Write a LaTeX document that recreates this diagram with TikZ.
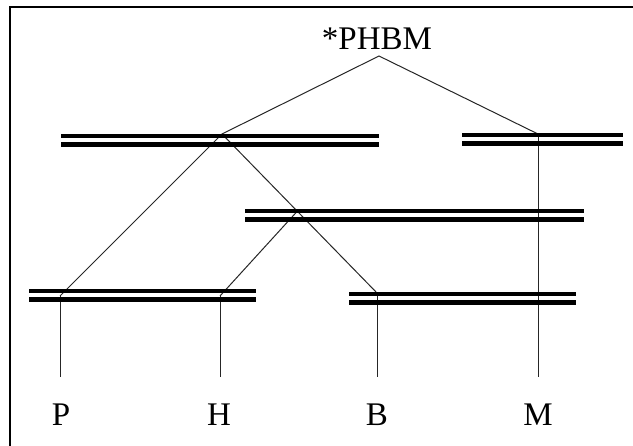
\documentclass[tikz,border=0pt]{standalone}
\usepackage{fontspec}
\setmainfont{Liberation Serif}
\tikzset{
  frameline/.style={line width=2.4pt, line cap=rect},
  barline/.style={line width=4.7pt},
  branch/.style={line width=1pt, black!85},
  lbl/.style={font=\fontsize{33}{33}\selectfont, inner sep=0pt, anchor=base},
}
\begin{document}
\begin{tikzpicture}[x=1pt,y=-1pt]
\useasboundingbox (0,0) rectangle (633,446);
% open frame: only the top and left edges
\draw[frameline] (10,446) -- (10,7) -- (633,7);

% labels
\node[lbl] (root) at (377,50) {*PHBM};
\node[lbl] (P) at (61,426) {P};
\node[lbl] (H) at (219,426) {H};
\node[lbl] (B) at (377,426) {B};
\node[lbl] (M) at (538,426) {M};

% branching points
\coordinate (apex) at (379,56);
\coordinate (jL) at (222,134);
\coordinate (jR) at (538,134);
\coordinate (jM) at (297.5,211);
\coordinate (jP) at (60,296);
\coordinate (jH) at (220,296);
\coordinate (jB) at (377,293);

% tree branches
\draw[branch] (jL) -- (apex) -- (jR);
\draw[branch] (jP) -- (jL) -- (jB);
\draw[branch] (jM) -- (jH);
\draw[branch] (jP) -- ([yshift=27pt]P.north -| jP);
\draw[branch] (jH) -- ([yshift=27pt]H.north -| jH);
\draw[branch] (jB) -- ([yshift=27pt]B.north -| jB);
\draw[branch] (jR) -- ([yshift=27pt]M.north -| jR);

% double bars
\foreach \xa/\xb/\ya in {61/379/136, 462/623/135, 245/584/211, 29/256/291, 349/576/294} {
  \draw[barline] (\xa,\ya) -- (\xb,\ya);
  \draw[barline] (\xa,\ya+8.5) -- (\xb,\ya+8.5);
}
\end{tikzpicture}
\end{document}
